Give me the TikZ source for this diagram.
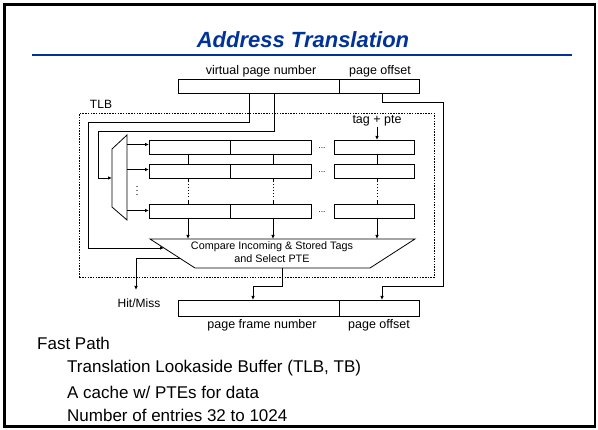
\documentclass[tikz,border=0pt]{standalone}
\usepackage{fontspec}
\setmainfont{Liberation Sans}
\usetikzlibrary{arrows.meta,calc}
\definecolor{titleblue}{RGB}{0,51,153}
\begin{document}
\begin{tikzpicture}[x=1pt,y=-1pt,
  reg/.style={draw, line width=0.8pt, inner sep=0pt, anchor=north west},
  wire/.style={line width=0.8pt},
  arr/.style={wire, -{Latex[length=4pt,width=3.5pt]}},
  lbl/.style={font=\fontsize{12.5}{14}\selectfont, inner sep=0pt},
  small/.style={font=\fontsize{8.5}{10.5}\selectfont, inner sep=0pt},
  bodytext/.style={font=\fontsize{17}{19}\selectfont, inner sep=0pt, anchor=west},
]
\useasboundingbox (0,0) rectangle (598,430);
% slide frame, title and rule
\draw[line width=2.5pt] (4.5,4.5) rectangle (595,426.5);
\node[font=\fontsize{22}{26}\selectfont\bfseries\itshape, text=titleblue] (title) at (303,40) {Address Translation};
\draw[titleblue, line width=2pt] (32,55) -- (572,55);

% virtual address register
\node[reg, minimum width=161pt, minimum height=14pt] (vpn) at (178,79) {};
\node[reg, minimum width=80pt, minimum height=14pt] (voff) at (339,79) {};
\node[lbl] (vpnlbl) at (261,71) {virtual page number};
\node[lbl] (vofflbl) at (380,71) {page offset};

% TLB outline
\node[draw, line width=0.8pt, dash pattern=on 1.5pt off 1.2pt, inner sep=0pt, anchor=north west,
      minimum width=355pt, minimum height=164pt] (tlb) at (79,113) {};
\node[lbl, font=\fontsize{12}{14}\selectfont] (tlblbl) at (101,104) {TLB};

% TLB entry rows
\foreach \r/\y in {1/140, 2/164, 3/204} {
  \node[reg, minimum width=81pt, minimum height=14.5pt] (r\r a) at (149,\y) {};
  \node[reg, minimum width=81pt, minimum height=14.5pt] (r\r b) at (230,\y) {};
  \node[reg, minimum width=80pt, minimum height=14.5pt] (r\r c) at (334,\y) {};
  \node[small] (dots\r) at (322,\y+8) {...};
}

% row selector (mux)
\coordinate (m1) at (112,149);
\coordinate (m2) at (127,135);
\coordinate (m3) at (127,220);
\coordinate (m4) at (112,207);
\draw[wire] (m1) -- (m2) -- (m3) -- (m4) -- cycle;
\draw[arr] (127,144.5) -- (r1a.west |- 0,144.5);
\draw[arr] (127,169.5) -- (r2a.west |- 0,169.5);
\draw[arr] (127,210.5) -- (r3a.west |- 0,210.5);
\foreach \y in {186.5,190.5,194.5} {
  \fill (137,\y) circle (0.6pt);
}

% column links between rows
\foreach \x in {188,273,377} {
  \draw[wire] (\x,154.5) -- (\x,164);
  \draw[wire, dash pattern=on 4pt off 2pt on 1pt off 2pt on 1pt off 2pt on 1pt off 2pt on 1pt off 2pt on 1pt off 3pt on 7pt] (\x,178.5) -- (\x,204);
}

% incoming tag + pte
\node[lbl] (tagpte) at (377,121) {tag + pte};
\draw[arr] (tagpte.south -| 377,0) -- (r1c.north -| 377,0);

% compare unit
\coordinate (c1) at (150,239);
\coordinate (c2) at (415,239);
\coordinate (c3) at (370,268);
\coordinate (c4) at (195,268);
\draw[wire] (c1) -- (c2) -- (c3) -- (c4) -- cycle;
\node[small, align=center, font=\fontsize{10.8}{13}\selectfont] (cmp) at (272,252.5) {Compare Incoming \& Stored Tags\\and Select PTE};
\foreach \x in {188,273,377} {
  \draw[arr] (\x,218.5) -- (\x,239);
}

% virtual page number into the TLB
\coordinate (j1) at (249,122);
\coordinate (j2) at (88,122);
\coordinate (j3) at (88,248);
\coordinate (j4) at (164,248);
\draw[arr] (vpn.south -| j1) -- (j1) -- (j2) -- (j3) -- (j4);
\coordinate (k1) at (274,131);
\coordinate (k2) at (98,131);
\coordinate (k3) at (98,178);
\coordinate (k4) at (112,178);
\draw[arr] (vpn.south -| k1) -- (k1) -- (k2) -- (k3) -- (k4);

% page offset bypass
\coordinate (p1) at (382,102);
\coordinate (p2) at (443,102);
\coordinate (p3) at (443,286);
\coordinate (p4) at (382,286);

% physical address register
\node[reg, minimum width=161pt, minimum height=16pt] (pfn) at (178,300) {};
\node[reg, minimum width=80pt, minimum height=16pt] (poff) at (339,300) {};
\node[lbl] (pfnlbl) at (262,325) {page frame number};
\node[lbl] (pofflbl) at (379,325) {page offset};

\draw[arr] (voff.south -| p1) -- (p1) -- (p2) -- (p3) -- (p4) -- (poff.north -| p4);
\coordinate (o1) at (282,286);
\coordinate (o2) at (253,286);
\draw[arr] (c4 -| o1) -- (o1) -- (o2) -- (pfn.north -| o2);

% hit/miss output
\coordinate (h0) at (180,258);
\coordinate (h1) at (136,258);
\coordinate (h2) at (136,290);
\draw[arr] (h0) -- (h1) -- (h2);
\node[lbl, font=\fontsize{12}{14}\selectfont] (hit) at (139,303) {Hit/Miss};

% bullet text
\node[bodytext] (fast) at (37,343) {Fast Path};
\node[bodytext] (b1) at (67,368) {Translation Lookaside Buffer (TLB, TB)};
\node[bodytext] (b2) at (67,392) {A cache w/ PTEs for data};
\node[bodytext] (b3) at (67,415) {Number of entries 32 to 1024};
\end{tikzpicture}
\end{document}
